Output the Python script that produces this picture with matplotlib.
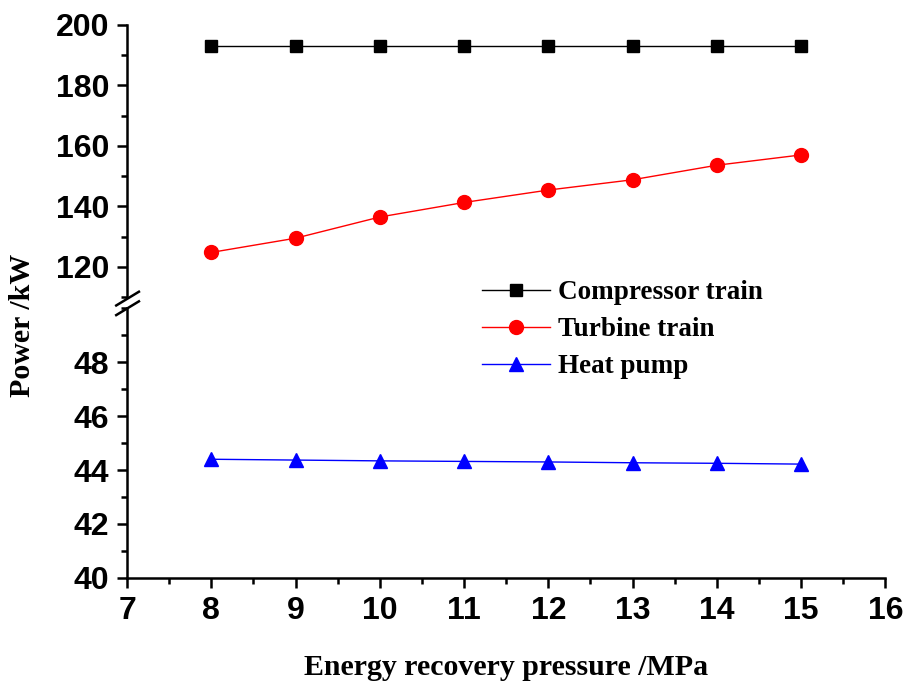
import matplotlib.pyplot as plt
import numpy as np

# data
pressure = [8, 9, 10, 11, 12, 13, 14, 15]
compressor = [193.0, 193.0, 193.0, 193.0, 193.0, 193.0, 193.0, 193.0]
turbine = [124.8, 129.5, 136.5, 141.3, 145.4, 148.8, 153.6, 157.0]
heat_pump = [44.40, 44.37, 44.34, 44.32, 44.30, 44.27, 44.25, 44.22]

tick_font = {'family': 'Liberation Sans', 'weight': 'bold', 'size': 23}
label_font = {'family': 'Liberation Serif', 'weight': 'bold', 'size': 21.5}

fig = plt.figure(figsize=(9.08, 6.88), dpi=100)
ax_top = fig.add_axes([0.140, 0.568, 0.835, 0.396])
ax_bot = fig.add_axes([0.140, 0.160, 0.835, 0.392])

handles = []
for ax in (ax_top, ax_bot):
    h1, = ax.plot(pressure, compressor, color='black', lw=1, marker='s', ms=9,
                  label='Compressor train')
    h2, = ax.plot(pressure, turbine, color='red', lw=1, marker='o', ms=10,
                  label='Turbine train')
    h3, = ax.plot(pressure, heat_pump, color='blue', lw=1, marker='^', ms=10,
                  label='Heat pump')
    handles = [h1, h2, h3]
    ax.set_xlim(7, 16)
    ax.spines['top'].set_visible(False)
    ax.spines['right'].set_visible(False)
    ax.spines['left'].set_linewidth(1.8)
    ax.spines['bottom'].set_linewidth(1.8)
    ax.tick_params(which='major', direction='out', length=7, width=1.8, pad=6)
    ax.tick_params(which='minor', direction='out', length=4, width=1.8)

ax_top.set_ylim(110, 200)
ax_top.set_yticks([120, 140, 160, 180, 200])
ax_top.set_yticks(np.arange(110, 201, 10), minor=True)
ax_top.spines['bottom'].set_visible(False)
ax_top.tick_params(axis='x', which='both', bottom=False, labelbottom=False)

ax_bot.set_ylim(40, 50)
ax_bot.set_yticks([40, 42, 44, 46, 48])
ax_bot.set_yticks(np.arange(40, 50.1, 1), minor=True)
ax_bot.set_xticks(range(7, 17))
ax_bot.set_xticks(np.arange(7, 16.01, 0.5), minor=True)

for ax in (ax_top, ax_bot):
    for t in ax.get_yticklabels() + ax.get_xticklabels():
        t.set_fontproperties(tick_font)

# break marks on the y axis
for yb in (0.566, 0.552):
    fig.add_artist(plt.Line2D([0.128, 0.153], [yb - 0.010, yb + 0.010],
                              color='black', lw=1.8))

ax_bot.set_xlabel('Energy recovery pressure /MPa', fontdict=label_font,
                  labelpad=20.5)
fig.text(0.025, 0.527, 'Power /kW', rotation=90, ha='center', va='center',
         fontdict=label_font)

leg = fig.legend(handles=handles, loc='upper left',
                 bbox_to_anchor=(0.504, 0.628), frameon=False,
                 prop={'family': 'Liberation Serif', 'weight': 'bold',
                       'size': 19.5},
                 handlelength=2.5, handletextpad=0.3, labelspacing=0.44)
leg.set_zorder(10)

fig.savefig('out.png', dpi=100)
